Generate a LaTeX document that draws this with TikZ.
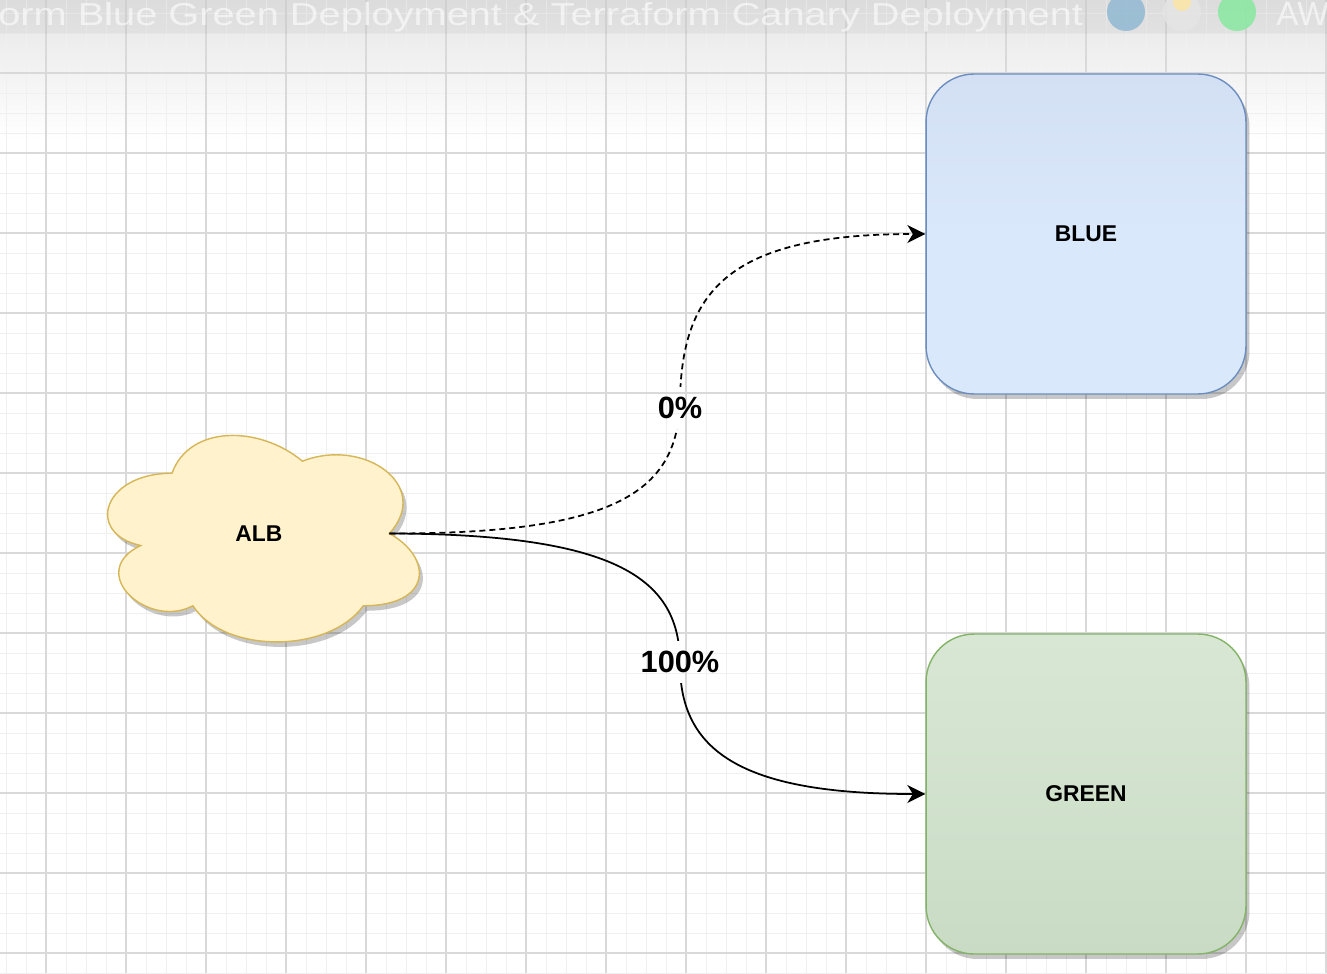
\documentclass[tikz,border=0pt]{standalone}
\usepackage{fontspec}
\setmainfont{Liberation Sans}
\usepackage{graphicx}
\usetikzlibrary{arrows.meta, shadows}
\definecolor{bluefill}{HTML}{DAE8FC}
\definecolor{bluetop}{HTML}{D3E0F4}
\definecolor{blueline}{HTML}{6C8EBF}
\definecolor{greenfill}{HTML}{D8E7D4}
\definecolor{greenbot}{HTML}{C9DBC5}
\definecolor{greenline}{HTML}{82B366}
\definecolor{albfill}{HTML}{FFF2CC}
\definecolor{albline}{HTML}{D6B656}
\definecolor{minorgrid}{HTML}{F0F0F0}
\definecolor{majorgrid}{HTML}{D9D9D9}
\tikzset{ minorline/.style = { draw = minorgrid
                             , line width = 0.55pt
                             },
          majorline/.style = { draw = majorgrid
                             , line width = 0.6pt
                             },
          boxshadow/.style = { drop shadow={shadow xshift=0.07cm, shadow yshift=-0.1cm, fill=black, opacity=0.22}
                             },
          box/.style = { rectangle
                       , draw
                       , line width      = 0.8pt
                       , rounded corners = 0.96cm
                       , minimum width   = 6.4cm
                       , minimum height  = 6.4cm
                       , inner sep       = 0pt
                       , font = \fontsize{13}{15}\selectfont\bfseries
                       , boxshadow
                       },
          bluebox/.style = { box
                           , draw = blueline
                           , top color = bluetop
                           , bottom color = bluefill
                           , middle color = bluefill
                           },
          greenbox/.style = { box
                            , draw = greenline
                            , top color = greenfill
                            , bottom color = greenbot
                            },
          albcloud/.style = { draw = albline
                            , fill = albfill
                            , line width = 0.8pt
                            , boxshadow
                            },
          link/.style = { line width = 1pt
                        , -{Stealth[length=0.36cm, width=0.36cm, inset=0.11cm]}
                        },
          dashlink/.style = { link
                            , dash pattern = on 0.12cm off 0.08cm
                            },
          pct/.style = { inner xsep = 0.08cm
                       , inner ysep = 0.2cm
                       , font = \fontsize{17.5}{19}\selectfont\bfseries
                       },
          titletext/.style = { text = white
                             , opacity = 0.6
                             , inner sep = 0pt
                             }
        }

\begin{document}
\begin{tikzpicture}[x=0.02cm, y=-0.02cm]
    \useasboundingbox (0,0) rectangle (1327,973);
    % canvas
    \fill[white] (0,0) rectangle (1327,973);
    \shade[top color=black!10, bottom color=white] (0,0) rectangle (1327,140);
    \foreach \gx in {6,26,...,1326} { \draw[minorline] (\gx,0) -- (\gx,973); }
    \foreach \gy in {13,33,...,973} { \draw[minorline] (0,\gy) -- (1327,\gy); }
    \foreach \gx in {46,126,...,1326} { \draw[majorline] (\gx,0) -- (\gx,973); }
    \foreach \gy in {73,153,...,953} { \draw[majorline] (0,\gy) -- (1327,\gy); }

    % video title bar
    \fill[black, opacity=0.04] (0,0) rectangle (1327,34);
    \node[titletext, anchor=base west] (title) at (-2,26)
        {\resizebox{21.7cm}{0.46cm}{orm Blue Green Deployment \& Terraform Canary Deployment}};
    \fill[blue!40!cyan!60!black!45!white, opacity=0.8] (1126,12) circle[radius=19];
    \fill[black!10, opacity=0.8] (1182,12) circle[radius=19];
    \fill[yellow!50!orange!35!white, opacity=0.8] (1182,2) circle[radius=9];
    \fill[green!60!teal!45!white, opacity=0.9] (1237,12) circle[radius=19];
    \node[titletext, anchor=base west] (aw) at (1276,26) {\resizebox{!}{0.46cm}{AW}};

    % targets
    \node[bluebox]  (blue)  at (1086,234) {BLUE};
    \node[greenbox] (green) at (1086,794) {GREEN};

    % load balancer
    \begin{scope}[shift={(85,413)}, x=6.96cm, y=-4.82cm]
        \path[albcloud] (0.25,0.25)
            .. controls (0.05,0.25) and (0,0.5) .. (0.16,0.55)
            .. controls (0,0.66) and (0.18,0.9) .. (0.31,0.8)
            .. controls (0.4,1) and (0.7,1) .. (0.8,0.8)
            .. controls (1,0.8) and (1,0.6) .. (0.875,0.5)
            .. controls (1,0.3) and (0.8,0.1) .. (0.625,0.2)
            .. controls (0.5,0.05) and (0.3,0.05) .. (0.25,0.25) -- cycle;
        \node[font=\fontsize{13}{15}\selectfont\bfseries] (alb) at (0.5,0.5) {ALB};
        \coordinate (albport) at (0.875,0.5);
    \end{scope}

    % traffic split
    \coordinate (zeromid) at (680,400);
    \coordinate (fullmid) at (680,664);
    \node[pct] (zero) at (680,408) {0\%};
    \node[pct] (full) at (680,662) {100\%};
    \begin{scope}[even odd rule]
        \clip (0,0) rectangle (1327,973)
            (zero.south west) rectangle (zero.north east)
            (full.south west) rectangle (full.north east);
        \draw[dashlink] (albport) .. controls (620,534) and (678,490) .. (zeromid)
                                  .. controls (682,290) and (730,234) .. (blue.west);
        \draw[link] (albport) .. controls (620,534) and (680,580) .. (fullmid)
                              .. controls (680,750) and (740,794) .. (green.west);
    \end{scope}
\end{tikzpicture}
\end{document}
